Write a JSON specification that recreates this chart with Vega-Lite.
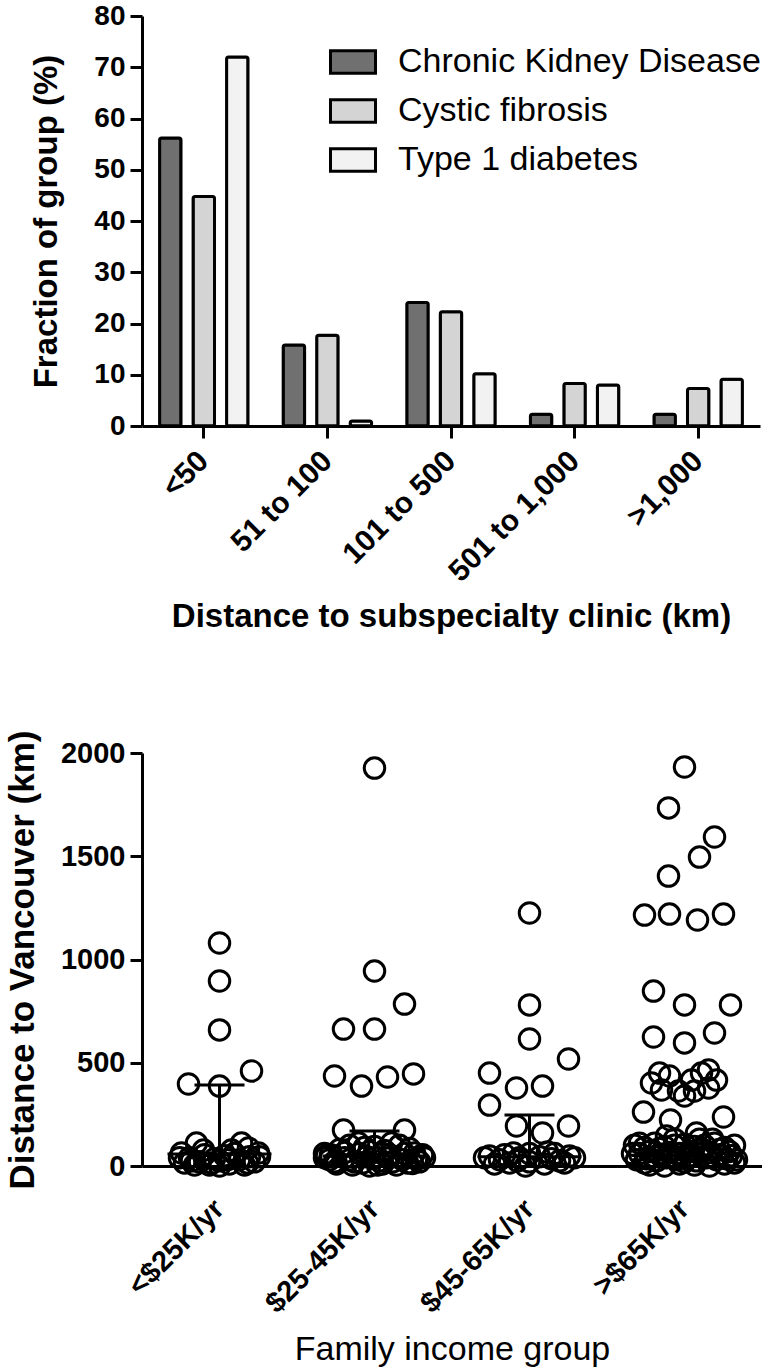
{
  "$schema": "https://vega.github.io/schema/vega-lite/v6.json",
  "padding": {"left": 5, "top": 2, "right": 0, "bottom": 0},
  "spacing": 95,
  "config": {
    "font": "Liberation Sans",
    "view": {"stroke": null},
    "axis": {"labelColor": "black", "titleColor": "black", "domainColor": "black", "tickColor": "black", "domainWidth": 3, "tickWidth": 3, "grid": false}
  },
  "datasets": {
    "bars": [
      {"distance": "<50", "disease": "Chronic Kidney Disease", "fraction": 56.2},
      {"distance": "<50", "disease": "Cystic fibrosis", "fraction": 44.8},
      {"distance": "<50", "disease": "Type 1 diabetes", "fraction": 72.0},
      {"distance": "51 to 100", "disease": "Chronic Kidney Disease", "fraction": 15.8},
      {"distance": "51 to 100", "disease": "Cystic fibrosis", "fraction": 17.7},
      {"distance": "51 to 100", "disease": "Type 1 diabetes", "fraction": 1.0},
      {"distance": "101 to 500", "disease": "Chronic Kidney Disease", "fraction": 24.1},
      {"distance": "101 to 500", "disease": "Cystic fibrosis", "fraction": 22.3},
      {"distance": "101 to 500", "disease": "Type 1 diabetes", "fraction": 10.2},
      {"distance": "501 to 1,000", "disease": "Chronic Kidney Disease", "fraction": 2.3},
      {"distance": "501 to 1,000", "disease": "Cystic fibrosis", "fraction": 8.3},
      {"distance": "501 to 1,000", "disease": "Type 1 diabetes", "fraction": 8.0},
      {"distance": ">1,000", "disease": "Chronic Kidney Disease", "fraction": 2.3},
      {"distance": ">1,000", "disease": "Cystic fibrosis", "fraction": 7.3},
      {"distance": ">1,000", "disease": "Type 1 diabetes", "fraction": 9.1}
    ],
    "points": [
      {"group": "<$25K/yr", "km": 1080, "jitter": 0},
      {"group": "<$25K/yr", "km": 896, "jitter": 0},
      {"group": "<$25K/yr", "km": 659, "jitter": 0},
      {"group": "<$25K/yr", "km": 397, "jitter": -31},
      {"group": "<$25K/yr", "km": 387, "jitter": 0},
      {"group": "<$25K/yr", "km": 460, "jitter": 32},
      {"group": "<$25K/yr", "km": 111, "jitter": -23},
      {"group": "<$25K/yr", "km": 111, "jitter": 22},
      {"group": "<$25K/yr", "km": 63, "jitter": -38},
      {"group": "<$25K/yr", "km": 77, "jitter": -16},
      {"group": "<$25K/yr", "km": 77, "jitter": 12},
      {"group": "<$25K/yr", "km": 87, "jitter": 29},
      {"group": "<$25K/yr", "km": 63, "jitter": 39},
      {"group": "<$25K/yr", "km": 40, "jitter": -30},
      {"group": "<$25K/yr", "km": 20, "jitter": -20},
      {"group": "<$25K/yr", "km": 5, "jitter": -10},
      {"group": "<$25K/yr", "km": 0, "jitter": 0},
      {"group": "<$25K/yr", "km": 10, "jitter": 10},
      {"group": "<$25K/yr", "km": 30, "jitter": 20},
      {"group": "<$25K/yr", "km": 45, "jitter": 30},
      {"group": "<$25K/yr", "km": 15, "jitter": -35},
      {"group": "<$25K/yr", "km": 20, "jitter": 35},
      {"group": "<$25K/yr", "km": 35, "jitter": -5},
      {"group": "<$25K/yr", "km": 50, "jitter": 5},
      {"group": "<$25K/yr", "km": 5, "jitter": -25},
      {"group": "<$25K/yr", "km": 5, "jitter": 25},
      {"group": "<$25K/yr", "km": 25, "jitter": 0},
      {"group": "<$25K/yr", "km": 60, "jitter": 15},
      {"group": "<$25K/yr", "km": 55, "jitter": -15},
      {"group": "<$25K/yr", "km": 40, "jitter": -40},
      {"group": "<$25K/yr", "km": 45, "jitter": 40},
      {"group": "<$25K/yr", "km": 25, "jitter": -28},
      {"group": "<$25K/yr", "km": 15, "jitter": -8},
      {"group": "<$25K/yr", "km": 30, "jitter": 8},
      {"group": "<$25K/yr", "km": 15, "jitter": 28},

      {"group": "$25-45K/yr", "km": 1927, "jitter": 0},
      {"group": "$25-45K/yr", "km": 944, "jitter": 0},
      {"group": "$25-45K/yr", "km": 784, "jitter": 30},
      {"group": "$25-45K/yr", "km": 663, "jitter": -31},
      {"group": "$25-45K/yr", "km": 663, "jitter": 0},
      {"group": "$25-45K/yr", "km": 436, "jitter": -40},
      {"group": "$25-45K/yr", "km": 387, "jitter": -13},
      {"group": "$25-45K/yr", "km": 431, "jitter": 13},
      {"group": "$25-45K/yr", "km": 446, "jitter": 39},
      {"group": "$25-45K/yr", "km": 174, "jitter": -31},
      {"group": "$25-45K/yr", "km": 174, "jitter": 30},
      {"group": "$25-45K/yr", "km": 55, "jitter": -44},
      {"group": "$25-45K/yr", "km": 111, "jitter": -16},
      {"group": "$25-45K/yr", "km": 111, "jitter": 17},
      {"group": "$25-45K/yr", "km": 63, "jitter": 40},
      {"group": "$25-45K/yr", "km": 60, "jitter": -50},
      {"group": "$25-45K/yr", "km": 80, "jitter": -35},
      {"group": "$25-45K/yr", "km": 100, "jitter": -25},
      {"group": "$25-45K/yr", "km": 90, "jitter": -10},
      {"group": "$25-45K/yr", "km": 95, "jitter": 0},
      {"group": "$25-45K/yr", "km": 75, "jitter": 10},
      {"group": "$25-45K/yr", "km": 100, "jitter": 25},
      {"group": "$25-45K/yr", "km": 85, "jitter": 35},
      {"group": "$25-45K/yr", "km": 55, "jitter": 48},
      {"group": "$25-45K/yr", "km": 30, "jitter": -45},
      {"group": "$25-45K/yr", "km": 40, "jitter": -30},
      {"group": "$25-45K/yr", "km": 20, "jitter": -20},
      {"group": "$25-45K/yr", "km": 45, "jitter": -8},
      {"group": "$25-45K/yr", "km": 25, "jitter": 5},
      {"group": "$25-45K/yr", "km": 40, "jitter": 15},
      {"group": "$25-45K/yr", "km": 30, "jitter": 28},
      {"group": "$25-45K/yr", "km": 35, "jitter": 42},
      {"group": "$25-45K/yr", "km": 10, "jitter": -38},
      {"group": "$25-45K/yr", "km": 5, "jitter": -22},
      {"group": "$25-45K/yr", "km": 0, "jitter": -5},
      {"group": "$25-45K/yr", "km": 10, "jitter": 8},
      {"group": "$25-45K/yr", "km": 5, "jitter": 22},
      {"group": "$25-45K/yr", "km": 12, "jitter": 38},
      {"group": "$25-45K/yr", "km": 40, "jitter": 0},
      {"group": "$25-45K/yr", "km": 60, "jitter": -15},
      {"group": "$25-45K/yr", "km": 55, "jitter": 15},
      {"group": "$25-45K/yr", "km": 60, "jitter": 30},
      {"group": "$25-45K/yr", "km": 65, "jitter": -30},
      {"group": "$25-45K/yr", "km": 40, "jitter": 50},
      {"group": "$25-45K/yr", "km": 40, "jitter": -50},
      {"group": "$25-45K/yr", "km": 20, "jitter": -40},
      {"group": "$25-45K/yr", "km": 30, "jitter": -25},
      {"group": "$25-45K/yr", "km": 15, "jitter": -12},
      {"group": "$25-45K/yr", "km": 5, "jitter": 3},
      {"group": "$25-45K/yr", "km": 20, "jitter": 18},
      {"group": "$25-45K/yr", "km": 15, "jitter": 33},
      {"group": "$25-45K/yr", "km": 20, "jitter": 45},
      {"group": "$25-45K/yr", "km": 50, "jitter": -48},
      {"group": "$25-45K/yr", "km": 70, "jitter": -5},
      {"group": "$25-45K/yr", "km": 60, "jitter": 8},

      {"group": "$45-65K/yr", "km": 1225, "jitter": 0},
      {"group": "$45-65K/yr", "km": 780, "jitter": 0},
      {"group": "$45-65K/yr", "km": 615, "jitter": 0},
      {"group": "$45-65K/yr", "km": 518, "jitter": 39},
      {"group": "$45-65K/yr", "km": 450, "jitter": -40},
      {"group": "$45-65K/yr", "km": 378, "jitter": -13},
      {"group": "$45-65K/yr", "km": 387, "jitter": 13},
      {"group": "$45-65K/yr", "km": 295, "jitter": -40},
      {"group": "$45-65K/yr", "km": 194, "jitter": -13},
      {"group": "$45-65K/yr", "km": 160, "jitter": 13},
      {"group": "$45-65K/yr", "km": 194, "jitter": 39},
      {"group": "$45-65K/yr", "km": 48, "jitter": -40},
      {"group": "$45-65K/yr", "km": 63, "jitter": -16},
      {"group": "$45-65K/yr", "km": 68, "jitter": 18},
      {"group": "$45-65K/yr", "km": 48, "jitter": 40},
      {"group": "$45-65K/yr", "km": 0, "jitter": -4},
      {"group": "$45-65K/yr", "km": 30, "jitter": -30},
      {"group": "$45-65K/yr", "km": 15, "jitter": -20},
      {"group": "$45-65K/yr", "km": 20, "jitter": 0},
      {"group": "$45-65K/yr", "km": 10, "jitter": 15},
      {"group": "$45-65K/yr", "km": 25, "jitter": 30},
      {"group": "$45-65K/yr", "km": 40, "jitter": -10},
      {"group": "$45-65K/yr", "km": 45, "jitter": 10},
      {"group": "$45-65K/yr", "km": 40, "jitter": -45},
      {"group": "$45-65K/yr", "km": 40, "jitter": 45},
      {"group": "$45-65K/yr", "km": 60, "jitter": 0},
      {"group": "$45-65K/yr", "km": 55, "jitter": -25},
      {"group": "$45-65K/yr", "km": 60, "jitter": 25},
      {"group": "$45-65K/yr", "km": 10, "jitter": -35},
      {"group": "$45-65K/yr", "km": 25, "jitter": -12},
      {"group": "$45-65K/yr", "km": 35, "jitter": 22},
      {"group": "$45-65K/yr", "km": 15, "jitter": 35},

      {"group": ">$65K/yr", "km": 1932, "jitter": 0},
      {"group": ">$65K/yr", "km": 1734, "jitter": -16},
      {"group": ">$65K/yr", "km": 1593, "jitter": 30},
      {"group": ">$65K/yr", "km": 1496, "jitter": 15},
      {"group": ">$65K/yr", "km": 1404, "jitter": -16},
      {"group": ">$65K/yr", "km": 1215, "jitter": -40},
      {"group": ">$65K/yr", "km": 1220, "jitter": -15},
      {"group": ">$65K/yr", "km": 1191, "jitter": 13},
      {"group": ">$65K/yr", "km": 1220, "jitter": 39},
      {"group": ">$65K/yr", "km": 847, "jitter": -31},
      {"group": ">$65K/yr", "km": 780, "jitter": 0},
      {"group": ">$65K/yr", "km": 780, "jitter": 46},
      {"group": ">$65K/yr", "km": 625, "jitter": -31},
      {"group": ">$65K/yr", "km": 596, "jitter": 0},
      {"group": ">$65K/yr", "km": 644, "jitter": 30},
      {"group": ">$65K/yr", "km": 402, "jitter": -33},
      {"group": ">$65K/yr", "km": 450, "jitter": -25},
      {"group": ">$65K/yr", "km": 436, "jitter": -15},
      {"group": ">$65K/yr", "km": 368, "jitter": -23},
      {"group": ">$65K/yr", "km": 363, "jitter": -6},
      {"group": ">$65K/yr", "km": 339, "jitter": 0},
      {"group": ">$65K/yr", "km": 363, "jitter": 10},
      {"group": ">$65K/yr", "km": 450, "jitter": 17},
      {"group": ">$65K/yr", "km": 465, "jitter": 24},
      {"group": ">$65K/yr", "km": 416, "jitter": 32},
      {"group": ">$65K/yr", "km": 378, "jitter": 24},
      {"group": ">$65K/yr", "km": 416, "jitter": 7},
      {"group": ">$65K/yr", "km": 261, "jitter": -41},
      {"group": ">$65K/yr", "km": 237, "jitter": 39},
      {"group": ">$65K/yr", "km": 223, "jitter": -14},
      {"group": ">$65K/yr", "km": 145, "jitter": -18},
      {"group": ">$65K/yr", "km": 160, "jitter": 12},
      {"group": ">$65K/yr", "km": 100, "jitter": -50},
      {"group": ">$65K/yr", "km": 90, "jitter": -40},
      {"group": ">$65K/yr", "km": 110, "jitter": -30},
      {"group": ">$65K/yr", "km": 95, "jitter": -20},
      {"group": ">$65K/yr", "km": 100, "jitter": -10},
      {"group": ">$65K/yr", "km": 105, "jitter": 0},
      {"group": ">$65K/yr", "km": 95, "jitter": 10},
      {"group": ">$65K/yr", "km": 100, "jitter": 20},
      {"group": ">$65K/yr", "km": 110, "jitter": 30},
      {"group": ">$65K/yr", "km": 90, "jitter": 40},
      {"group": ">$65K/yr", "km": 100, "jitter": 50},
      {"group": ">$65K/yr", "km": 60, "jitter": -45},
      {"group": ">$65K/yr", "km": 70, "jitter": -35},
      {"group": ">$65K/yr", "km": 55, "jitter": -25},
      {"group": ">$65K/yr", "km": 65, "jitter": -15},
      {"group": ">$65K/yr", "km": 60, "jitter": -5},
      {"group": ">$65K/yr", "km": 70, "jitter": 5},
      {"group": ">$65K/yr", "km": 60, "jitter": 15},
      {"group": ">$65K/yr", "km": 65, "jitter": 25},
      {"group": ">$65K/yr", "km": 55, "jitter": 35},
      {"group": ">$65K/yr", "km": 70, "jitter": 45},
      {"group": ">$65K/yr", "km": 30, "jitter": -48},
      {"group": ">$65K/yr", "km": 35, "jitter": -38},
      {"group": ">$65K/yr", "km": 25, "jitter": -28},
      {"group": ">$65K/yr", "km": 40, "jitter": -18},
      {"group": ">$65K/yr", "km": 30, "jitter": -8},
      {"group": ">$65K/yr", "km": 35, "jitter": 2},
      {"group": ">$65K/yr", "km": 25, "jitter": 12},
      {"group": ">$65K/yr", "km": 40, "jitter": 22},
      {"group": ">$65K/yr", "km": 30, "jitter": 32},
      {"group": ">$65K/yr", "km": 35, "jitter": 42},
      {"group": ">$65K/yr", "km": 30, "jitter": 52},
      {"group": ">$65K/yr", "km": 5, "jitter": -35},
      {"group": ">$65K/yr", "km": 0, "jitter": -20},
      {"group": ">$65K/yr", "km": 10, "jitter": -5},
      {"group": ">$65K/yr", "km": 5, "jitter": 10},
      {"group": ">$65K/yr", "km": 0, "jitter": 25},
      {"group": ">$65K/yr", "km": 10, "jitter": 40},
      {"group": ">$65K/yr", "km": 130, "jitter": -10},
      {"group": ">$65K/yr", "km": 130, "jitter": 15},
      {"group": ">$65K/yr", "km": 20, "jitter": 0},
      {"group": ">$65K/yr", "km": 15, "jitter": -40},
      {"group": ">$65K/yr", "km": 15, "jitter": 50},
      {"group": ">$65K/yr", "km": 60, "jitter": -52},
      {"group": ">$65K/yr", "km": 45, "jitter": -30},
      {"group": ">$65K/yr", "km": 45, "jitter": -12},
      {"group": ">$65K/yr", "km": 50, "jitter": 6},
      {"group": ">$65K/yr", "km": 80, "jitter": 18},
      {"group": ">$65K/yr", "km": 80, "jitter": 35},
      {"group": ">$65K/yr", "km": 85, "jitter": -25},
      {"group": ">$65K/yr", "km": 50, "jitter": 47},
      {"group": ">$65K/yr", "km": 110, "jitter": -45},
      {"group": ">$65K/yr", "km": 130, "jitter": 28}
    ],
    "summary": [
      {"group": "<$25K/yr", "median": 58, "q3": 392},
      {"group": "$25-45K/yr", "median": 48, "q3": 169},
      {"group": "$45-65K/yr", "median": 45, "q3": 247},
      {"group": ">$65K/yr", "median": 30, "q3": 107}
    ]
  },
  "vconcat": [
    {
      "width": 618,
      "height": 410,
      "data": {"name": "bars"},
      "mark": {"type": "bar", "stroke": "black", "strokeWidth": 3, "cornerRadius": 2},
      "encoding": {
        "x": {
          "field": "distance", "type": "nominal",
          "sort": ["<50", "51 to 100", "101 to 500", "501 to 1,000", ">1,000"],
          "scale": {"paddingInner": 0.187, "paddingOuter": 0.0935},
          "axis": {
            "title": "Distance to subspecialty clinic (km)",
            "labelAngle": -45, "labelAlign": "right", "labelBaseline": "middle",
            "labelFontSize": 30, "labelFontWeight": "bold", "labelPadding": 18,
            "titleFontSize": 33, "titleFontWeight": "bold", "titlePadding": 14,
            "tickSize": 12
          }
        },
        "xOffset": {
          "field": "disease", "type": "nominal",
          "sort": ["Chronic Kidney Disease", "Cystic fibrosis", "Type 1 diabetes"],
          "scale": {"paddingInner": 0.36, "paddingOuter": 0.18}
        },
        "y": {
          "field": "fraction", "type": "quantitative",
          "scale": {"domain": [0, 80]},
          "axis": {
            "title": "Fraction of group (%)",
            "values": [0, 10, 20, 30, 40, 50, 60, 70, 80],
            "labelFontSize": 28, "labelFontWeight": "bold", "labelPadding": 5,
            "titleFontSize": 33, "titleFontWeight": "bold", "titlePadding": 30,
            "tickSize": 12
          }
        },
        "fill": {
          "field": "disease", "type": "nominal",
          "scale": {
            "domain": ["Chronic Kidney Disease", "Cystic fibrosis", "Type 1 diabetes"],
            "range": ["#707070", "#d4d4d4", "#f2f2f2"]
          },
          "legend": {
            "title": null, "orient": "none", "legendX": 187, "legendY": 22,
            "labelFontSize": 34, "labelColor": "black", "labelLimit": 600, "labelOffset": 21,
            "symbolType": "M-1,-0.5H1V0.5H-1Z", "symbolSize": 2025,
            "symbolStrokeColor": "black", "symbolStrokeWidth": 3, "rowPadding": 7
          }
        }
      }
    },
    {
      "width": 620,
      "height": 413,
      "encoding": {
        "x": {
          "field": "group", "type": "nominal",
          "sort": ["<$25K/yr", "$25-45K/yr", "$45-65K/yr", ">$65K/yr"],
          "scale": {"paddingInner": 0, "paddingOuter": 0},
          "axis": {
            "title": "Family income group",
            "labelAngle": -45, "labelAlign": "right", "labelBaseline": "middle",
            "labelFontSize": 29, "labelFontWeight": "bold", "labelPadding": 38,
            "ticks": false,
            "titleFontSize": 34, "titleFontWeight": "normal", "titlePadding": 14
          }
        }
      },
      "layer": [
        {
          "data": {"name": "points"},
          "mark": {"type": "point", "shape": "circle", "filled": false, "stroke": "black", "strokeWidth": 3, "size": 420, "opacity": 1},
          "encoding": {
            "xOffset": {"field": "jitter", "type": "quantitative", "scale": {"domain": [-77.5, 77.5]}},
            "y": {
              "field": "km", "type": "quantitative",
              "scale": {"domain": [0, 2000]},
              "axis": {
                "title": "Distance to Vancouver (km)",
                "values": [0, 500, 1000, 1500, 2000],
                "format": "d",
                "labelFontSize": 29, "labelFontWeight": "bold", "labelPadding": 5,
                "titleFontSize": 35, "titleFontWeight": "bold", "titlePadding": 20,
                "tickSize": 12
              }
            }
          }
        },
        {
          "data": {"name": "summary"},
          "mark": {"type": "rule", "color": "black", "strokeWidth": 3},
          "encoding": {
            "y": {"field": "median", "type": "quantitative"},
            "y2": {"field": "q3"}
          }
        },
        {
          "data": {"name": "summary"},
          "mark": {"type": "tick", "color": "black", "thickness": 3, "size": 104, "opacity": 1},
          "encoding": {
            "y": {"field": "median", "type": "quantitative"}
          }
        },
        {
          "data": {"name": "summary"},
          "mark": {"type": "tick", "color": "black", "thickness": 3, "size": 50, "opacity": 1},
          "encoding": {
            "y": {"field": "q3", "type": "quantitative"}
          }
        }
      ]
    }
  ]
}
